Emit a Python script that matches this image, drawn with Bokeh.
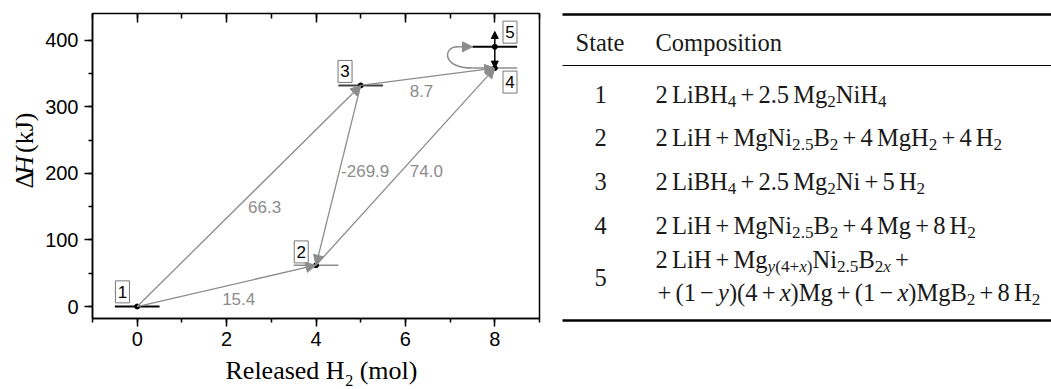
import math
from bokeh.plotting import figure
from bokeh.models import (Range1d, LinearAxis, SingleIntervalTicker, Arrow, NormalHead,
                          CustomJSTickFormatter, ColumnDataSource)
from bokeh.layouts import row, column
from bokeh.core.properties import value
from bokeh.embed import file_html
from bokeh.resources import INLINE

# ---------------- data ----------------
state_ids = ["1", "2", "3", "4", "5"]
released_h2 = [0, 4, 5, 8, 8]          # mol
delta_h = [0, 62, 332, 358, 390]       # kJ

# transitions between states (indices) and their labels
trans_from = [0, 0, 2, 1, 2]
trans_to = [1, 2, 1, 3, 3]
trans_text = ["15.4", "66.3", "-269.9", "74.0", "8.7"]

table_header = ["State", "Composition"]
compositions = [
    ["2~LiBH_{4} + 2.5~Mg_{2}NiH_{4}"],
    ["2~LiH + MgNi_{2.5}B_{2} + 4~MgH_{2} + 4~H_{2}"],
    ["2~LiBH_{4} + 2.5~Mg_{2}Ni + 5~H_{2}"],
    ["2~LiH + MgNi_{2.5}B_{2} + 4~Mg + 8~H_{2}"],
    ["2~LiH + Mg_{$y$(4+$x$)}Ni_{2.5}B_{2$x$} +",
     "+ (1 \u2212 $y$)(4 + $x$)Mg + (1 \u2212 $x$)MgB_{2} + 8~H_{2}"],
]

# ---------------- layout constants ----------------
GRAY = "#8c8c8c"
HT = 389
YL_W = 42                 # strip holding the y title
P1_W, P1_H = 511, 354
XL_H = HT - P1_H          # strip holding the x title
LEFT_W = YL_W + P1_W
P2_W = 1051 - LEFT_W
X0, X1, Y0, Y1 = -1, 9, -18, 440
ML, MR, MT, MB = 48, 14, 13, 36
MIDF = 0.34               # baseline -> em-box middle, in em

# Times / Liberation Serif widths (1/1000 em)
REG = {' ': 250, '(': 333, ')': 333, '+': 564, '.': 250, '\u2212': 564,
       'B': 667, 'C': 667, 'H': 722, 'L': 611, 'M': 889, 'N': 722, 'S': 556,
       'R': 667, 'J': 389, 'a': 444, 'e': 444, 'g': 500, 'i': 278, 'm': 778,
       'n': 500, 'o': 500, 'p': 500, 's': 389, 't': 278, 'k': 500, 'l': 278,
       'd': 500, '\u0394': 612}
ITA = {'x': 444, 'y': 444, 'H': 722}
SUB, DROP, SPACE, THIN = 0.7, 0.21, 0.17, 0.17


def char_w(c, ital):
    if ital and c in ITA:
        return ITA[c]
    return REG.get(c, 500)


def text_w(s, size, ital=False):
    return sum(char_w(c, ital) for c in s) / 1000 * size


def rich_segments(markup, x0, base, size):
    out = []
    st = {"x": x0, "sub": False, "ital": False, "buf": "", "bx": x0, "bstyle": None}

    def flush():
        if st["buf"]:
            sub, ital = st["bstyle"]
            sz = size * SUB if sub else size
            b = base + (DROP * size if sub else 0)
            out.append(dict(x=st["bx"], y=b - MIDF * sz, text=st["buf"], size=sz, ital=ital))
        st["buf"] = ""

    i = 0
    while i < len(markup):
        c = markup[i]
        if markup.startswith("_{", i):
            flush(); st["sub"] = True; i += 2; continue
        if c == "}" and st["sub"]:
            flush(); st["sub"] = False; i += 1; continue
        if c == "$":
            flush(); st["ital"] = not st["ital"]; i += 1; continue
        if c == "~":
            flush(); st["x"] += THIN * size; i += 1; continue
        if c == " ":
            flush(); st["x"] += SPACE * size * (SUB if st["sub"] else 1); i += 1; continue
        style = (st["sub"], st["ital"])
        if not st["buf"] or style != st["bstyle"]:
            flush(); st["bx"] = st["x"]; st["bstyle"] = style
        st["buf"] += c
        st["x"] += char_w(c, st["ital"]) / 1000 * size * (SUB if st["sub"] else 1)
        i += 1
    flush()
    return out


def blank_fig(w, h, yr):
    f = figure(width=w, height=h, x_range=Range1d(0, w), y_range=yr,
               output_backend="svg", toolbar_location=None, min_border=0,
               x_axis_location=None, y_axis_location=None)
    f.grid.visible = False
    f.outline_line_color = None
    return f


# ---------------- diagram ----------------
p1 = figure(width=P1_W, height=P1_H, x_range=Range1d(X0, X1), y_range=Range1d(Y0, Y1),
            output_backend="svg", toolbar_location=None,
            min_border_left=ML, min_border_right=MR, min_border_top=MT, min_border_bottom=MB)
p1.grid.visible = False
p1.outline_line_color = "black"
p1.outline_line_width = 1.5

xt = SingleIntervalTicker(interval=2, num_minor_ticks=2)
yt = SingleIntervalTicker(interval=100, num_minor_ticks=2)
p1.xaxis.ticker = xt
p1.yaxis.ticker = yt
for ax in p1.axis:
    ax.major_tick_in = 0
    ax.major_tick_out = 8
    ax.minor_tick_in = 0
    ax.minor_tick_out = 4
    ax.axis_line_width = 1.5
    ax.major_tick_line_width = 1.5
    ax.minor_tick_line_width = 1.5
    ax.axis_line_color = "black"
    ax.major_tick_line_color = "black"
    ax.minor_tick_line_color = "black"
    ax.major_label_text_font = "Liberation Sans"
    ax.major_label_text_font_size = "20px"
    ax.major_label_text_color = "black"
    ax.major_label_standoff = 6
p1.xaxis.major_label_standoff = 5

top = LinearAxis(ticker=xt, major_tick_in=9, major_tick_out=0, minor_tick_in=5, minor_tick_out=0,
                 major_tick_line_width=1.5, minor_tick_line_width=1.5,
                 major_label_text_font_size="0px", major_label_standoff=0,
                 formatter=CustomJSTickFormatter(code="return ''"), axis_line_color=None)
p1.add_layout(top, "above")

# level lines
lvl_colors = ["black", GRAY, "#444444", GRAY, "black"]
lvl_widths = [2, 1.5, 2, 1.5, 2]
p1.segment(x0=[x - 0.5 for x in released_h2], y0=delta_h,
           x1=[x + 0.5 for x in released_h2], y1=delta_h,
           line_color=lvl_colors, line_width=lvl_widths)

# transition arrows
arr_src = ColumnDataSource(dict(
    xs=[released_h2[i] for i in trans_from], ys=[delta_h[i] for i in trans_from],
    xe=[released_h2[i] for i in trans_to], ye=[delta_h[i] for i in trans_to]))
p1.add_layout(Arrow(x_start="xs", y_start="ys", x_end="xe", y_end="ye", source=arr_src,
                    line_color=GRAY, line_width=1.3,
                    end=NormalHead(size=10, fill_color=GRAY, line_color=GRAY, line_width=1)))

# 4 <-> 5 vertical double arrow
p1.add_layout(Arrow(x_start=released_h2[3], y_start=delta_h[3],
                    x_end=released_h2[4], y_end=delta_h[4] + 23,
                    line_color="black", line_width=1.5,
                    start=NormalHead(size=7, fill_color="black", line_color="black", line_width=1),
                    end=NormalHead(size=7, fill_color="black", line_color="black", line_width=1)))

# loop arrow 4 -> 5
x4, h4, h5 = released_h2[3], delta_h[3], delta_h[4]
p1.bezier(x0=[x4 - 0.5], y0=[h4], x1=[x4 - 0.84], y1=[h5],
          cx0=[x4 - 1.2], cy0=[h4], cx1=[x4 - 1.15], cy1=[h5],
          line_color=GRAY, line_width=1.5)
p1.add_layout(Arrow(x_start=x4 - 0.86, y_start=h5, x_end=x4 - 0.5, y_end=h5,
                    line_color=GRAY, line_width=1.5,
                    end=NormalHead(size=10, fill_color=GRAY, line_color=GRAY, line_width=1)))

# state dots
p1.scatter(released_h2, delta_h, size=5, color="black")

# transition labels
lab_x = [2.27, 2.85, 5.1, 6.47, 6.36]
lab_y = [12, 149, 204, 204, 324]
p1.text(x=lab_x, y=lab_y, text=trans_text, text_font=value("Liberation Sans"),
        text_font_size="17px", text_color=GRAY, text_align="center", text_baseline="middle")

# state boxes
box_x = [-0.33, 3.67, 4.65, 8.34, 8.34]
box_y = [22, 82, 353, 337, 412]
p1.rect(x=box_x, y=box_y, width=14, height=22, width_units="screen", height_units="screen",
        fill_color=None, line_color="#777777", line_width=1)
p1.text(x=box_x, y=box_y, text=state_ids, text_font=value("Liberation Sans"),
        text_font_size="17px", text_color="black", text_align="center", text_baseline="middle")

# ---------------- y title strip ----------------
AX = 26
yfig = blank_fig(YL_W, P1_H, Range1d(0, P1_H))
y_parts = [("\u0394", "normal", 0.0), ("H", "italic", 0.0), ("(kJ)", "normal", 0.25)]
cur = P1_H - 203          # start (bottom) of the title, in strip units (up = +)
for txt, sty, gap in y_parts:
    cur += gap * AX
    yfig.text(x=[33 - MIDF * AX], y=[cur], text=[txt], angle=math.pi / 2,
              text_font=value("Liberation Serif"), text_font_style=sty,
              text_font_size=f"{AX}px", text_color="black",
              text_baseline="middle", text_align="left")
    cur += text_w(txt, AX, sty == "italic")

# ---------------- x title strip ----------------
xfig = blank_fig(LEFT_W, XL_H, Range1d(0, XL_H))
xs0 = 225
XB = 379                  # page baseline of the x title
SUBX = 16


def xf_y(page_base, size):
    return HT - (page_base - MIDF * size)


w_main = text_w("Released H", AX)
xfig.text(x=[xs0], y=[xf_y(XB, AX)], text=["Released H"], text_font=value("Liberation Serif"),
          text_font_size=f"{AX}px", text_color="black", text_baseline="middle")
xfig.text(x=[xs0 + w_main + 0.5], y=[xf_y(XB + 6, SUBX)], text=["2"],
          text_font=value("Liberation Serif"), text_font_size=f"{SUBX}px",
          text_color="black", text_baseline="middle")
xfig.text(x=[xs0 + w_main + 0.5 + 0.5 * SUBX + 0.25 * AX], y=[xf_y(XB, AX)], text=["(mol)"],
          text_font=value("Liberation Serif"), text_font_size=f"{AX}px",
          text_color="black", text_baseline="middle")

# ---------------- table ----------------
p2 = blank_fig(P2_W, HT, Range1d(HT, 0))
OX = LEFT_W               # page x of the table strip
TS = 24.5
TCOL = "#1a1a1a"
p2.segment(x0=[562 - OX] * 3, y0=[14, 65, 320], x1=[P2_W] * 3, y1=[14, 65, 320],
           line_color="black", line_width=[2.6, 1.2, 2.6])
p2.text(x=[575 - OX, 655 - OX], y=[50 - MIDF * TS] * 2, text=table_header,
        text_font=value("Liberation Serif"),
        text_font_size=f"{TS}px", text_color=TCOL, text_baseline="middle")

row_base = [[102], [145], [189], [233], [267, 300]]
state_base = [102, 145, 189, 233, 285]
line_x = [[655], [655], [655], [655], [655, 657]]
p2.text(x=[600 - OX] * 5, y=[b - MIDF * TS for b in state_base], text=state_ids,
        text_font=value("Liberation Serif"),
        text_font_size=f"{TS}px", text_color=TCOL, text_align="center", text_baseline="middle")

segs = []
for comp, bases, xs in zip(compositions, row_base, line_x):
    for line, b, x0 in zip(comp, bases, xs):
        segs += rich_segments(line, x0 - OX, b, TS)

groups = {}
for s in segs:
    groups.setdefault((round(s["size"], 2), s["ital"]), []).append(s)
for (sz, ital), lst in groups.items():
    p2.text(x=[s["x"] for s in lst], y=[s["y"] for s in lst], text=[s["text"] for s in lst],
            text_font=value("Liberation Serif"), text_font_size=f"{sz}px",
            text_font_style="italic" if ital else "normal",
            text_color=TCOL, text_baseline="middle", text_align="left")

layout = row(column(row(yfig, p1), xfig), p2)
open("out.html", "w").write(file_html(layout, INLINE))
